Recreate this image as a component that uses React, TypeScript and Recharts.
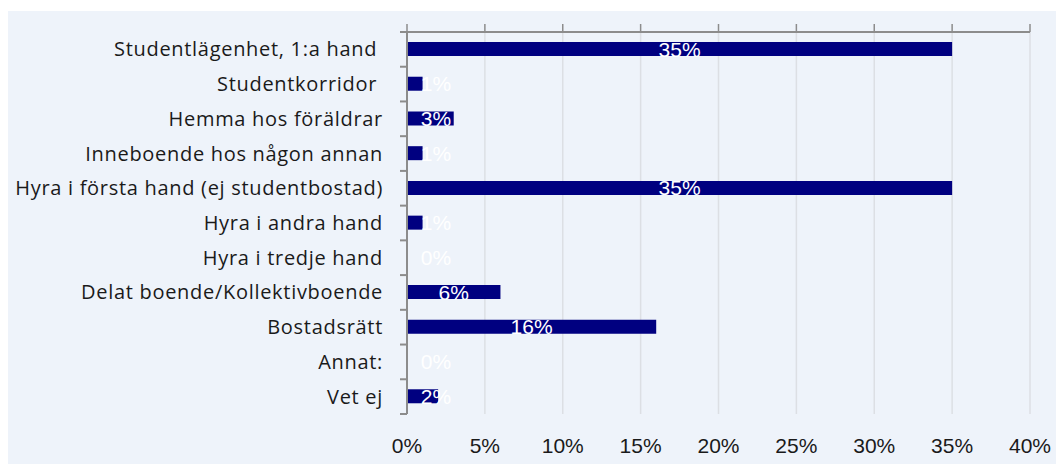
import React from 'react';
import { BarChart, Bar, XAxis, YAxis, CartesianGrid, LabelList } from 'recharts';

const categories = [
  'Studentlägenhet, 1:a hand ',
  'Studentkorridor ',
  'Hemma hos föräldrar',
  'Inneboende hos någon annan',
  'Hyra i första hand (ej studentbostad)',
  'Hyra i andra hand',
  'Hyra i tredje hand',
  'Delat boende/Kollektivboende',
  'Bostadsrätt',
  'Annat:',
  'Vet ej',
];
const values = [35, 1, 3, 1, 35, 1, 0, 6, 16, 0, 2];
const xTicks = [0, 5, 10, 15, 20, 25, 30, 35, 40];

const data = categories.map((name, i) => ({ name, value: values[i] }));

const W = 1056;
const H = 464;
const PLOT_LEFT = 407;
const PLOT_TOP = 32;
const PLOT_BOTTOM = 414;
const BAND = (PLOT_BOTTOM - PLOT_TOP) / categories.length;
const AXIS_GRAY = '#8c8c8c';

const YTick = (props: any) => {
  const { y, payload, index } = props;
  const last = index === categories.length - 1;
  return (
    <g>
      <line x1={PLOT_LEFT - 7} x2={PLOT_LEFT} y1={y - BAND / 2} y2={y - BAND / 2} stroke={AXIS_GRAY} strokeWidth={2} />
      {last && (
        <line x1={PLOT_LEFT - 7} x2={PLOT_LEFT} y1={y + BAND / 2} y2={y + BAND / 2} stroke={AXIS_GRAY} strokeWidth={2} />
      )}
      <text
        x={PLOT_LEFT - 24}
        y={y}
        dy="0.35em"
        textAnchor="end"
        fill="#1a1a1a"
        fontSize={20}
        letterSpacing={0.7}
        fontFamily="'Open Sans', sans-serif"
        style={{ whiteSpace: 'pre' }}
      >
        {payload.value}
      </text>
    </g>
  );
};

// top axis carries the tick marks; its labels are drawn under the plot
const XTick = (props: any) => {
  const { x, payload } = props;
  return (
    <text
      x={x}
      y={PLOT_BOTTOM + 31}
      dy="0.36em"
      textAnchor="middle"
      fill="#1a1a1a"
      fontSize={21}
      fontFamily="'Liberation Sans', Arial, sans-serif"
    >
      {`${payload.value}%`}
    </text>
  );
};

const renderValueLabel = (props: any) => {
  const { x, y, width, height, value } = props;
  const cx = Math.max(x + width / 2, x + 29);
  return (
    <text
      x={cx}
      y={y + height / 2}
      dy="0.36em"
      textAnchor="middle"
      fill="#ffffff"
      fontSize={21}
      fontFamily="'Liberation Sans', Arial, sans-serif"
    >
      {`${value}%`}
    </text>
  );
};

export default function App() {
  return (
    <div style={{ position: 'absolute', left: 0, top: 0, width: W, height: H, background: '#ffffff' }}>
      <div style={{ position: 'absolute', left: 8, top: 11, width: W - 8, height: H - 11, background: '#eef3fa' }} />
      <div style={{ position: 'absolute', left: 0, top: 0 }}>
        <BarChart
          width={W}
          height={H}
          data={data}
          layout="vertical"
          margin={{ top: 24, right: 26, bottom: 50, left: 0 }}
          barCategoryGap={0}
        >
          <CartesianGrid horizontal={false} stroke="#dcdfe4" strokeWidth={1.5} />
          <XAxis
            orientation="top"
            type="number"
            domain={[0, 40]}
            ticks={xTicks}
            height={8}
            tickSize={8}
            tick={<XTick />}
            axisLine={{ stroke: AXIS_GRAY, strokeWidth: 2 }}
            tickLine={{ stroke: AXIS_GRAY, strokeWidth: 1.5 }}
          />
          <YAxis
            type="category"
            dataKey="name"
            width={PLOT_LEFT}
            axisLine={{ stroke: AXIS_GRAY, strokeWidth: 2 }}
            tickLine={false}
            tick={<YTick />}
            interval={0}
          />
          <Bar dataKey="value" fill="#000080" barSize={14} minPointSize={0.01} isAnimationActive={false}>
            <LabelList dataKey="value" content={renderValueLabel} />
          </Bar>
        </BarChart>
      </div>
    </div>
  );
}
